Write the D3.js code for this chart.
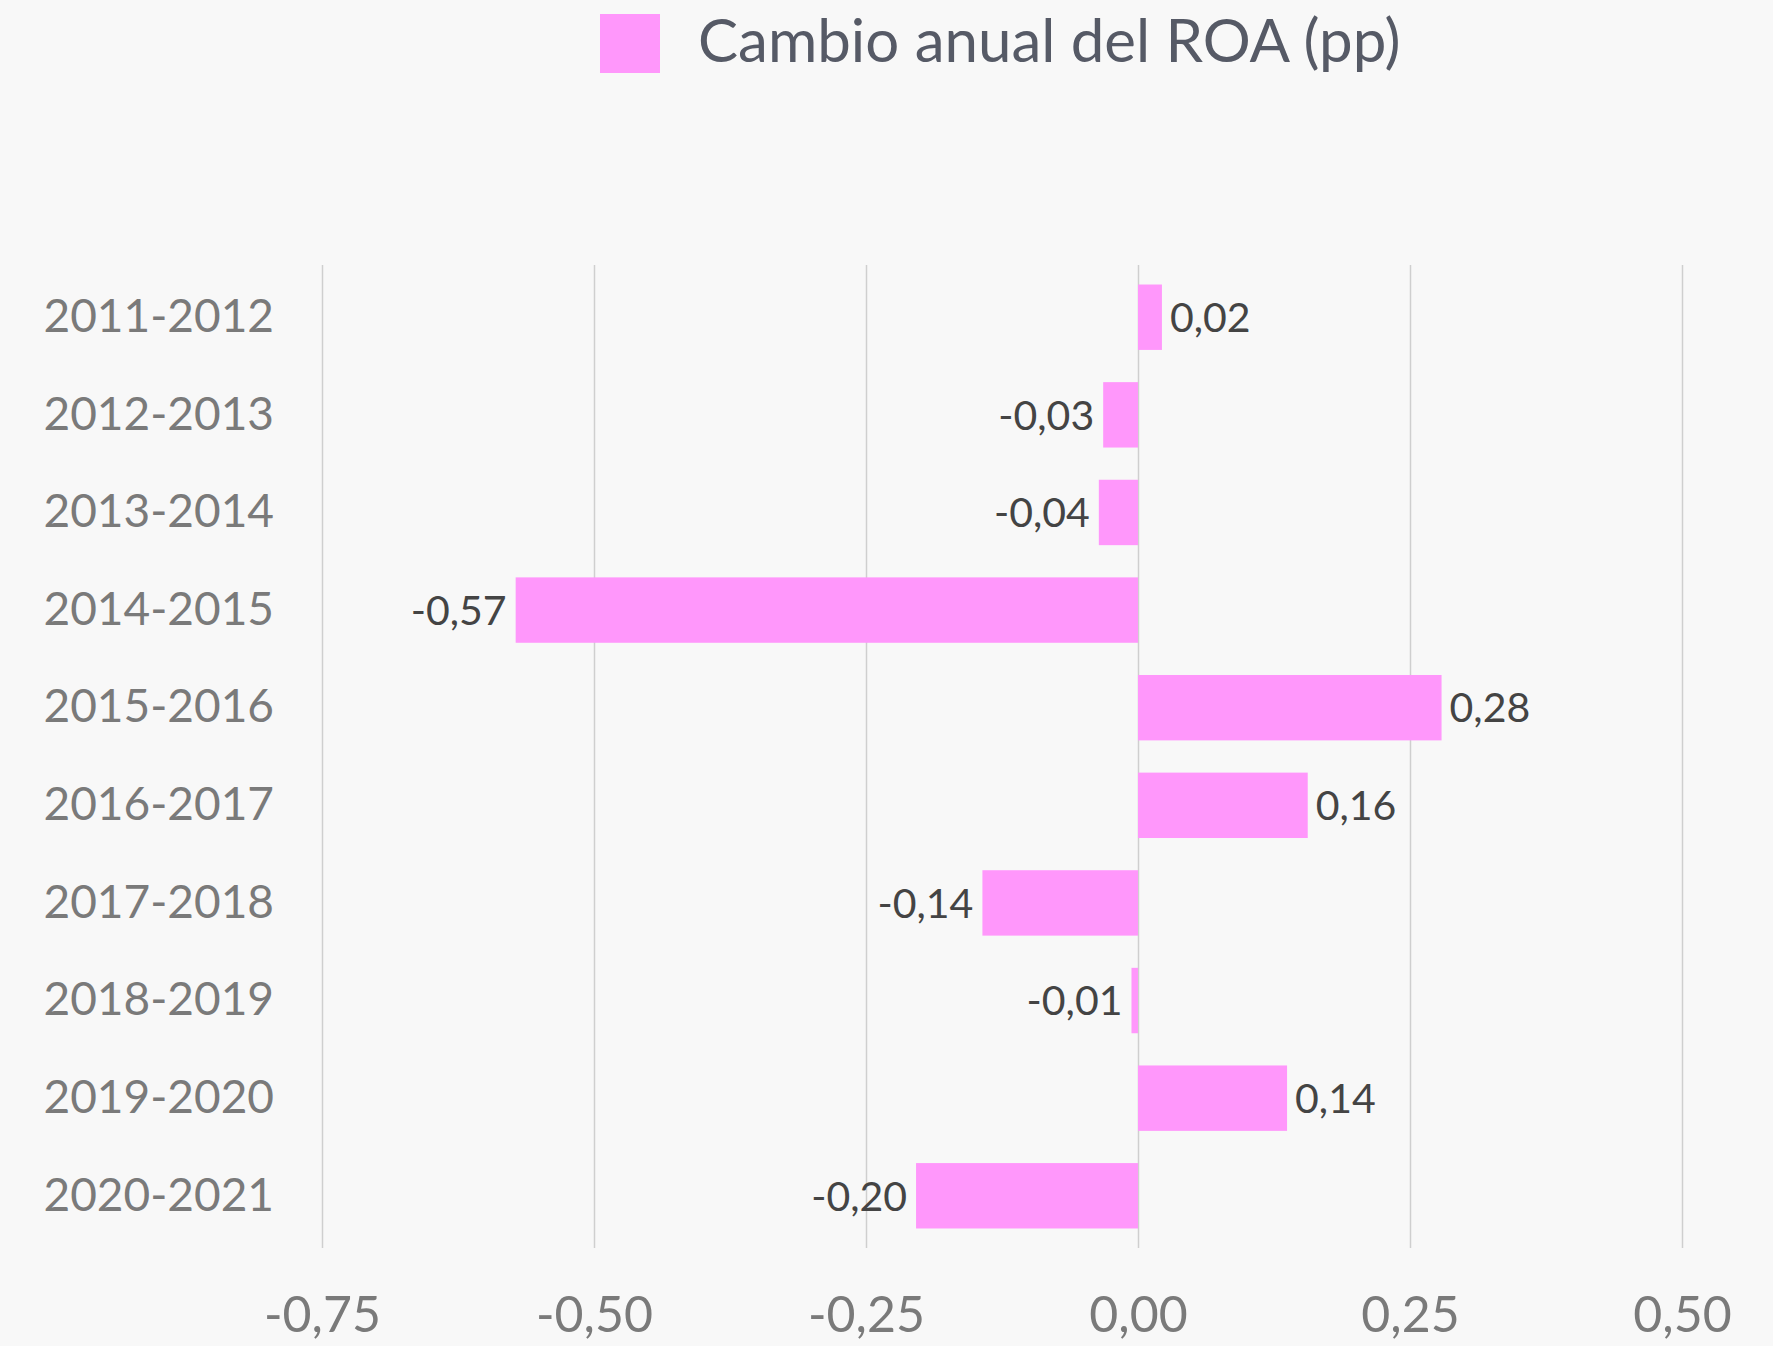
<!DOCTYPE html>
<html>
<head>
<meta charset="utf-8">
<script src="https://cdn.jsdelivr.net/npm/d3@7"></script>
<style>
  html, body { margin: 0; padding: 0; background: #f8f8f8; }
  svg { display: block; font-family: Lato, "Open Sans", sans-serif; }
</style>
</head>
<body>
<script>
//Width and height
var w = 1773;
var h = 1346;

//Data
var categories = [
  "2011-2012", "2012-2013", "2013-2014", "2014-2015", "2015-2016",
  "2016-2017", "2017-2018", "2018-2019", "2019-2020", "2020-2021",
];
var values = [0.022, -0.032, -0.036, -0.572, 0.279, 0.156, -0.143, -0.006, 0.137, -0.204];
var xTicks = [-0.75, -0.5, -0.25, 0, 0.25, 0.5];
var seriesName = "Cambio anual del ROA (pp)";

var barColor = "#ff97fb";

//Plot area
var plotLeft = 322, plotRight = 1682, plotTop = 265, plotBottom = 1248;

var xScale = d3.scaleLinear().domain([-0.75, 0.5]).range([plotLeft, plotRight]);

var yScale = d3
  .scaleBand()
  .domain(categories)
  .range([plotTop, plotBottom])
  .paddingInner(0.33)
  .paddingOuter(0.2);

function fmt(d) {
  return d3.format(".2f")(d).replace(".", ",").replace("−", "-");
}

//Create SVG element
var svg = d3.select("body").append("svg").attr("width", w).attr("height", h);

svg.append("rect").attr("width", w).attr("height", h).attr("fill", "#f8f8f8");

//Gridlines + x tick labels
var xAxis = svg
  .append("g")
  .attr("transform", "translate(0," + plotBottom + ")")
  .call(
    d3
      .axisBottom(xScale)
      .tickValues(xTicks)
      .tickSize(-(plotBottom - plotTop))
      .tickPadding(48)
      .tickFormat(fmt)
  );
xAxis.select(".domain").remove();
xAxis.selectAll("line").attr("stroke", "#cfcfcf").attr("stroke-width", 1.5);
xAxis
  .selectAll("text")
  .attr("fill", "#7a7a7a")
  .attr("font-size", "50px")
  .attr("font-family", "Lato, sans-serif");

//Category labels
var yAxis = svg
  .append("g")
  .attr("transform", "translate(" + plotLeft + ",0)")
  .call(d3.axisLeft(yScale).tickSize(0).tickPadding(48));
yAxis.select(".domain").remove();
yAxis
  .selectAll("text")
  .attr("fill", "#7a7a7a")
  .attr("font-size", "46px")
  .attr("font-family", "Lato, sans-serif");

//Create bars
svg
  .selectAll("rect.bar")
  .data(values)
  .enter()
  .append("rect")
  .attr("class", "bar")
  .attr("x", function (d) {
    return xScale(Math.min(0, d));
  })
  .attr("y", function (d, i) {
    return yScale(categories[i]);
  })
  .attr("width", function (d) {
    return Math.abs(xScale(d) - xScale(0));
  })
  .attr("height", yScale.bandwidth())
  .attr("fill", barColor);

//Create labels
svg
  .selectAll("text.val")
  .data(values)
  .enter()
  .append("text")
  .attr("class", "val")
  .text(function (d) {
    return fmt(d);
  })
  .attr("text-anchor", function (d) {
    return d < 0 ? "end" : "start";
  })
  .attr("x", function (d) {
    return d < 0 ? xScale(d) - 9 : xScale(d) + 8;
  })
  .attr("y", function (d, i) {
    return yScale(categories[i]) + yScale.bandwidth() / 2;
  })
  .attr("dy", "0.36em")
  .attr("font-size", "41px")
  .attr("fill", "#444444");

//Legend
var legend = svg.append("g");
legend
  .append("rect")
  .attr("x", 600)
  .attr("y", 14)
  .attr("width", 60)
  .attr("height", 59)
  .attr("fill", barColor);
legend
  .append("text")
  .attr("x", 698)
  .attr("y", 62)
  .text(seriesName)
  .attr("font-size", "60px")
  .attr("fill", "#565a66");
</script>
</body>
</html>
